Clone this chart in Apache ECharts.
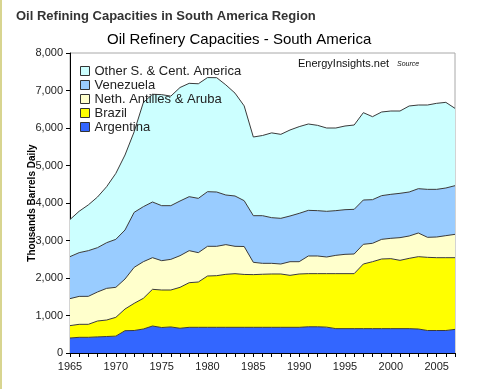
<!DOCTYPE html>
<html>
<head>
<meta charset="utf-8">
<script src="https://cdn.jsdelivr.net/npm/echarts@6/dist/echarts.min.js"></script>
<style>
html,body{margin:0;padding:0;background:#fff;}
#c{width:500px;height:389px;}
</style>
</head>
<body>
<div id="c"></div>
<script>
var years = [];
for (var y = 1965; y <= 2007; y++) years.push(String(y));

var argentina = [400,418,418,430,440,450,595,600,640,720,680,695,660,685,685,685,685,685,685,685,
  685,685,685,685,685,685,700,700,690,650,650,650,650,650,650,650,650,650,640,600,600,600,630];
var brazil = [330,347,347,423,440,501,578,724,818,978,1000,985,1091,1190,1208,1368,1377,1413,1430,1410,
  1405,1415,1422,1422,1386,1422,1416,1416,1426,1466,1466,1466,1723,1785,1857,1866,1821,1874,1929,1951,1942,1942,1912];
var nethAntilles = [720,745,746,774,844,800,800,960,977,844,782,817,844,854,783,792,783,792,730,745,
  328,291,284,266,364,328,471,471,444,488,515,524,525,490,524,542,605,596,631,534,551,587,622];
var venezuela = [1120,1166,1218,1182,1218,1280,1307,1467,1467,1485,1467,1432,1458,1440,1448,1457,1448,1323,1342,1222,
  1244,1271,1218,1218,1218,1289,1217,1209,1218,1192,1191,1191,1182,1164,1165,1173,1182,1173,1182,1279,1271,1271,1298];
var other = [990,1104,1221,1351,1494,1759,2000,2149,2778,2873,2961,2921,3027,3022,3056,3043,3049,2937,2743,2528,
  2098,2138,2261,2240,2294,2312,2303,2275,2222,2204,2231,2249,2329,2213,2231,2222,2195,2294,2231,2249,2294,2284,2062];

var seriesNames = ['Argentina','Brazil','Neth. Antilles & Aruba','Venezuela','Other S. & Cent. America'];
var seriesData = [argentina, brazil, nethAntilles, venezuela, other];
var seriesColors = ['#3366FF','#FFFF00','#FFFFCC','#99CCFF','#CCFFFF'];
var legendOrder = ['Other S. & Cent. America','Venezuela','Neth. Antilles & Aruba','Brazil','Argentina'];

var FONT = 'Liberation Sans, Arial, sans-serif';
var chart = echarts.init(document.getElementById('c'), null, {renderer:'canvas'});

var series = seriesNames.map(function(n, i){
  return {
    name: n, type: 'line', stack: 'total', data: seriesData[i],
    symbol: 'none', smooth: false,
    itemStyle: {color: seriesColors[i]},
    lineStyle: {color: '#3a3a3a', width: 1},
    areaStyle: {color: seriesColors[i], opacity: 1},
    emphasis: {disabled: true}, animation: false
  };
});

chart.setOption({
  backgroundColor: '#ffffff',
  animation: false,
  title: [
    {text: 'Oil Refining Capacities in South America Region', left: 16, top: 10, padding: 0,
     textStyle: {fontFamily: FONT, fontSize: 13, fontWeight: 'bold', color: '#333333'}},
    {text: 'Oil Refinery Capacities - South America', left: 107, top: 32, padding: 0,
     textStyle: {fontFamily: FONT, fontSize: 15, fontWeight: 'normal', color: '#000000'}}
  ],
  grid: {left: 70, right: 45, top: 53, bottom: 36, show: true, borderColor: '#a8a8a8', borderWidth: 1, containLabel: false},
  legend: {
    data: legendOrder, orient: 'vertical', left: 80, top: 64, padding: 0,
    icon: 'rect', itemWidth: 9, itemHeight: 9, itemGap: 0,
    itemStyle: {borderColor: '#333333', borderWidth: 1},
    textStyle: {fontFamily: FONT, fontSize: 13, color: '#222222', lineHeight: 14},
    selectedMode: false
  },
  xAxis: {
    type: 'category', data: years, boundaryGap: false,
    axisLine: {lineStyle: {color: '#000', width: 1}},
    axisTick: {show: true, interval: 0, length: 4, lineStyle: {color: '#000'}},
    axisLabel: {interval: 4, fontFamily: FONT, fontSize: 11, color: '#222', margin: 8},
    splitLine: {show: false}
  },
  yAxis: {
    type: 'value', min: 0, max: 8000, interval: 1000,
    name: 'Thousands Barrels Daily', nameLocation: 'middle', nameGap: 33, nameMoveOverlap: false,
    nameTextStyle: {fontFamily: FONT, fontSize: 10, fontWeight: 'bold', color: '#000'},
    axisLine: {show: true, lineStyle: {color: '#000', width: 1}},
    axisTick: {show: true, length: 4, lineStyle: {color: '#000'}},
    axisLabel: {fontFamily: FONT, fontSize: 11, color: '#222', margin: 7,
      formatter: function(v){ return v.toLocaleString('en-US'); }},
    splitLine: {show: false}
  },
  graphic: [
    {type: 'rect', left: 0, top: 0, shape: {width: 2, height: 389}, style: {fill: '#d8d590'}},
    {type: 'text', left: 298, top: 58, style: {text: 'EnergyInsights.net', font: '11px ' + FONT, fill: '#111'}},
    {type: 'text', left: 397, top: 61, style: {text: 'Source', font: 'italic 7px ' + FONT, fill: '#111'}}
  ],
  series: series
});
</script>
</body>
</html>
